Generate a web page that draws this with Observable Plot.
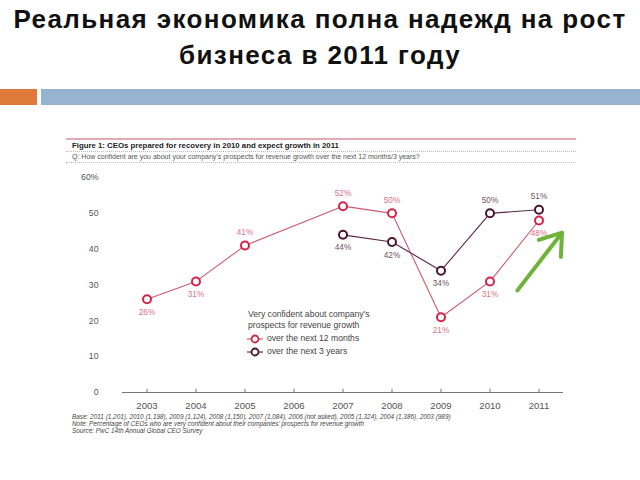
<!DOCTYPE html>
<html><head><meta charset="utf-8">
<script src="https://cdn.jsdelivr.net/npm/d3@7"></script>
<script src="https://cdn.jsdelivr.net/npm/@observablehq/plot@0.6"></script>
<style>
body{margin:0;background:#fff;}
#wrap{position:relative;width:640px;height:480px;overflow:hidden;font-family:"Liberation Sans",Arial,sans-serif;}
#wrap > *{position:absolute;}
.title{left:0;width:640px;text-align:center;font-weight:bold;font-size:26px;color:#111;line-height:36px;top:1px;letter-spacing:1.4px;}
.barO{left:0;top:89px;width:37px;height:16px;background:#E07A3C;}
.barB{left:41px;top:89px;width:599px;height:16px;background:#96B4D2;}
.rule{left:66px;width:510px;}
.ftitle{left:72px;top:141px;font-size:7.8px;font-weight:bold;color:#222;white-space:nowrap;}
.fq{left:72px;top:152.5px;font-size:7px;color:#555;white-space:nowrap;}
.legend{left:248px;top:309px;font-size:8.6px;color:#444;line-height:10.5px;}
.legend .row{display:flex;align-items:center;height:13px;}
.legend svg{margin-right:4px;margin-left:-1px;}
.notes{left:72px;top:413px;font-size:6.4px;font-style:italic;color:#444;line-height:7px;white-space:nowrap;}
#chart{left:0;top:0;}
</style></head><body>
<div id="wrap">
  <div class="title">Реальная экономика полна надежд на рост<br>бизнеса в 2011 году</div>
  <div class="barO"></div><div class="barB"></div>
  <div class="rule" style="top:138px;height:1.5px;background:#E2AAB3;"></div>
  <div class="ftitle">Figure 1: CEOs prepared for recovery in 2010 and expect growth in 2011</div>
  <div class="rule" style="top:151px;border-top:1px dotted #bbb;"></div>
  <div class="fq">Q: How confident are you about your company’s prospects for revenue growth over the next 12 months/3 years?</div>
  <div class="rule" style="top:162px;border-top:1px dotted #bbb;"></div>
  <div id="chart"></div>
  <div class="legend" id="legend"></div>
  <div class="notes" id="notes"></div>
</div>
<script>
const years = [2003, 2004, 2005, 2006, 2007, 2008, 2009, 2010, 2011];
const yTicks = [0, 10, 20, 30, 40, 50, 60];
const years12m = [2003, 2004, 2005, 2007, 2008, 2009, 2010, 2011];
const values12m = [26, 31, 41, 52, 50, 21, 31, 48];
const labelAbove12m = [false, false, true, true, true, false, false, false];
const years3y = [2007, 2008, 2009, 2010, 2011];
const values3y = [44, 42, 34, 50, 51];
const labelAbove3y = [false, false, false, true, true];
const legendTitle = ["Very confident about company’s", "prospects for revenue growth"];
const seriesNames = ["over the next 12 months", "over the next 3 years"];
const growthArrow = [{x1: 2010.56, y1: 28.5, x2: 2011.47, y2: 44.6}];
const footnotes = [
  "Base: 2011 (1,201), 2010 (1,198), 2009 (1,124), 2008 (1,150), 2007 (1,084), 2006 (not asked), 2005 (1,324), 2004 (1,386), 2003 (989)",
  "Note: Percentage of CEOs who are very confident about their companies’ prospects for revenue growth",
  "Source: PwC 14th Annual Global CEO Survey"
];

const c12 = {line: "#CC5A74", dot: "#D42249", text: "#DB6F88"};
const c3 = {line: "#5E2844", dot: "#4A1430", text: "#6E5362"};

const rows12 = years12m.map((y, i) => ({year: y, value: values12m[i], above: labelAbove12m[i]}));
const rows3 = years3y.map((y, i) => ({year: y, value: values3y[i], above: labelAbove3y[i]}));

const labels = (rows, col) => [
  Plot.text(rows.filter(d => d.above), {x: "year", y: "value", text: d => d.value + "%", dy: -13, fill: col.text, fontSize: 8.2}),
  Plot.text(rows.filter(d => !d.above), {x: "year", y: "value", text: d => d.value + "%", dy: 13, fill: col.text, fontSize: 8.2})
];

const chart = Plot.plot({
  width: 640, height: 480,
  marginLeft: 122, marginRight: 77, marginTop: 177, marginBottom: 88,
  x: {domain: [2002.5, 2011.5]},
  y: {domain: [0, 60]},
  style: {fontFamily: "'Liberation Sans', Arial, sans-serif", background: "transparent", overflow: "visible"},
  marks: [
    Plot.axisY({ticks: yTicks, tickSize: 0, tickPadding: 24, tickFormat: d => d === 60 ? "60%" : String(d), fontSize: 8.7, color: "#555"}),
    Plot.axisX({ticks: years, tickSize: 0, tickPadding: 10, tickFormat: d => String(d), fontSize: 9.6, color: "#555"}),
    Plot.ruleY([0], {stroke: "#777", strokeWidth: 1}),
    Plot.ruleX(years, {x: d => d, y1: 0, y2: 0.9, stroke: "#777"}),
    Plot.line(rows12, {x: "year", y: "value", stroke: c12.line, strokeWidth: 1.1}),
    Plot.line(rows3, {x: "year", y: "value", stroke: c3.line, strokeWidth: 1.1}),
    Plot.dot(rows12, {x: "year", y: "value", r: 4, stroke: c12.dot, strokeWidth: 2, fill: "white"}),
    Plot.dot(rows3, {x: "year", y: "value", r: 4, stroke: c3.dot, strokeWidth: 2, fill: "white"}),
    ...labels(rows12, c12),
    ...labels(rows3, c3),
    Plot.arrow(growthArrow, {x1: "x1", y1: "y1", x2: "x2", y2: "y2", stroke: "#6DB33A", strokeWidth: 4, headLength: 13, headAngle: 70})
  ]
});
document.getElementById("chart").appendChild(chart);

const icon = col => `<svg width="16" height="10"><line x1="0" y1="5" x2="16" y2="5" stroke="${col.line}" stroke-width="1.2"/><circle cx="8" cy="5" r="3.5" fill="white" stroke="${col.dot}" stroke-width="1.8"/></svg>`;
document.getElementById("legend").innerHTML =
  legendTitle.map(t => `<div>${t}</div>`).join("") +
  `<div class="row" style="margin-top:2px">${icon(c12)}<span>${seriesNames[0]}</span></div>` +
  `<div class="row">${icon(c3)}<span>${seriesNames[1]}</span></div>`;
document.getElementById("notes").innerHTML = footnotes.map(t => `<div>${t}</div>`).join("");
</script>
</body></html>
